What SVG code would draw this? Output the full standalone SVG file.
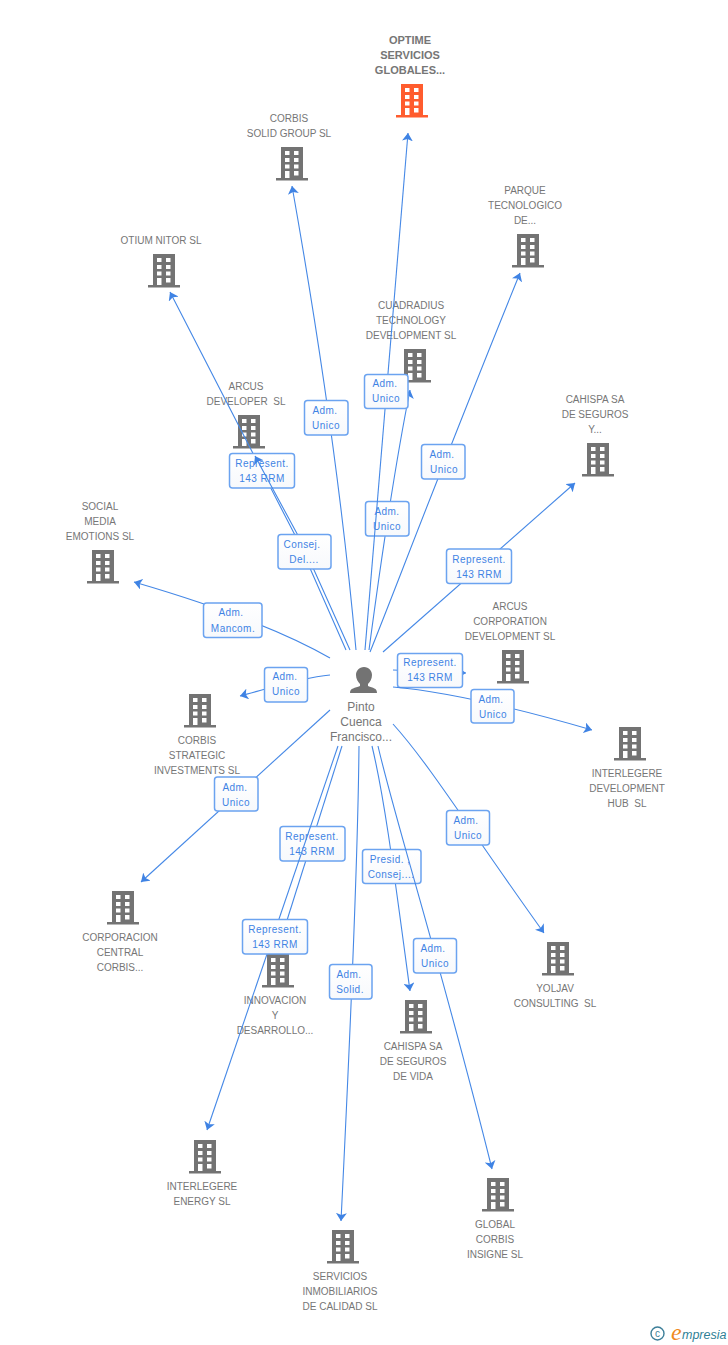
<svg xmlns="http://www.w3.org/2000/svg" width="728" height="1345" viewBox="0 0 728 1345">
<style>
.n{font:10px "Liberation Sans",Arial,sans-serif;fill:#767676;text-anchor:middle;white-space:pre}
.b{font-weight:bold;font-size:11px}
.c{fill:none;stroke:#4588e6;stroke-width:1.1;marker-end:url(#a)}
.l rect{fill:url(#g);stroke:#6ba3f0;stroke-width:1.5}
.l text{font:10px "Liberation Sans",Arial,sans-serif;letter-spacing:.45px;fill:#3f83e4;text-anchor:middle}
</style>
<defs>
<marker id="a" markerWidth="10" markerHeight="11" refX="8" refY="5.500" orient="auto" markerUnits="userSpaceOnUse"><path d="M0 0L8 5.500L0 11L2 5.500Z" fill="#3f83e4"/></marker>
<linearGradient id="g" x1="0" y1="0" x2="0" y2="1"><stop offset="0" stop-color="#fff"/><stop offset="1" stop-color="#f7f9fc"/></linearGradient>
<path id="i" fill-rule="evenodd" d="M5 0H27V31H32V33.500H0V31H5ZM9 4V8H13.500V4ZM18 4V8H22.500V4ZM9 11V15H13.500V11ZM18 11V15H22.500V11ZM9 17.500V21.500H13.500V17.500ZM18 17.500V21.500H22.500V17.500ZM9 24V31H13.500V24ZM18 24V28.500H22.500V24Z"/>
</defs>
<g id="n-optime"><text class="n b" x="410" y="44">OPTIME</text><text class="n b" x="410" y="59">SERVICIOS</text><text class="n b" x="410" y="74">GLOBALES...</text><use href="#i" x="396" y="84" fill="#ff5c2e"/></g>
<g id="n-corbis-solid" fill="#737373"><text class="n" x="289" y="122">CORBIS</text><text class="n" x="289" y="137">SOLID GROUP SL</text><use href="#i" x="276" y="147"/></g>
<g id="n-parque" fill="#737373"><text class="n" x="525" y="194">PARQUE</text><text class="n" x="525" y="209">TECNOLOGICO</text><text class="n" x="525" y="224">DE...</text><use href="#i" x="512" y="234"/></g>
<g id="n-otium" fill="#737373"><text class="n" x="161" y="244">OTIUM NITOR SL</text><use href="#i" x="148" y="254"/></g>
<g id="n-cuadradius" fill="#737373"><text class="n" x="411" y="309">CUADRADIUS</text><text class="n" x="411" y="324">TECHNOLOGY</text><text class="n" x="411" y="339">DEVELOPMENT SL</text><use href="#i" x="399" y="349"/></g>
<g id="n-arcus-dev" fill="#737373"><text class="n" x="246" y="390">ARCUS</text><text class="n" x="246" y="405">DEVELOPER  SL</text><use href="#i" x="233" y="415"/></g>
<g id="n-cahispa-seguros" fill="#737373"><text class="n" x="595" y="403">CAHISPA SA</text><text class="n" x="595" y="418">DE SEGUROS</text><text class="n" x="595" y="433">Y...</text><use href="#i" x="582" y="443"/></g>
<g id="n-social" fill="#737373"><text class="n" x="100" y="510">SOCIAL</text><text class="n" x="100" y="525">MEDIA</text><text class="n" x="100" y="540">EMOTIONS SL</text><use href="#i" x="87" y="550"/></g>
<g id="n-arcus-corp" fill="#737373"><text class="n" x="510" y="610">ARCUS</text><text class="n" x="510" y="625">CORPORATION</text><text class="n" x="510" y="640">DEVELOPMENT SL</text><use href="#i" x="497" y="650"/></g>
<g id="n-corbis-strategic" fill="#737373"><use href="#i" x="184" y="694"/><text class="n" x="197" y="744">CORBIS</text><text class="n" x="197" y="759">STRATEGIC</text><text class="n" x="197" y="774">INVESTMENTS SL</text></g>
<g id="n-interlegere-dev" fill="#737373"><use href="#i" x="614" y="727"/><text class="n" x="627" y="777">INTERLEGERE</text><text class="n" x="627" y="792">DEVELOPMENT</text><text class="n" x="627" y="807">HUB  SL</text></g>
<g id="n-corporacion" fill="#737373"><use href="#i" x="107" y="891"/><text class="n" x="120" y="941">CORPORACION</text><text class="n" x="120" y="956">CENTRAL</text><text class="n" x="120" y="971">CORBIS...</text></g>
<g id="n-innovacion" fill="#737373"><use href="#i" x="262" y="954"/><text class="n" x="275" y="1004">INNOVACION</text><text class="n" x="275" y="1019">Y</text><text class="n" x="275" y="1034">DESARROLLO...</text></g>
<g id="n-yoljav" fill="#737373"><use href="#i" x="542" y="942"/><text class="n" x="555" y="992">YOLJAV</text><text class="n" x="555" y="1007">CONSULTING  SL</text></g>
<g id="n-cahispa-vida" fill="#737373"><use href="#i" x="400" y="1000"/><text class="n" x="413" y="1050">CAHISPA SA</text><text class="n" x="413" y="1065">DE SEGUROS</text><text class="n" x="413" y="1080">DE VIDA</text></g>
<g id="n-interlegere-energy" fill="#737373"><use href="#i" x="189" y="1140"/><text class="n" x="202" y="1190">INTERLEGERE</text><text class="n" x="202" y="1205">ENERGY SL</text></g>
<g id="n-global" fill="#737373"><use href="#i" x="482" y="1178"/><text class="n" x="495" y="1228">GLOBAL</text><text class="n" x="495" y="1243">CORBIS</text><text class="n" x="495" y="1258">INSIGNE SL</text></g>
<g id="n-servicios" fill="#737373"><use href="#i" x="327" y="1230"/><text class="n" x="340" y="1280">SERVICIOS</text><text class="n" x="340" y="1295">INMOBILIARIOS</text><text class="n" x="340" y="1310">DE CALIDAD SL</text></g>
<g id="n-pinto"><path fill="#737373" d="M364 667C369 667 372 671 372 675C372 679 370 682 368 684V686C373 688 377 688 377 693H350C350 688 355 688 360 686V684C358 682 356 679 356 675C356 671 359 667 364 667Z"/><text class="n" x="361" y="711" style="font-size:12px">Pinto</text><text class="n" x="361" y="726" style="font-size:12px">Cuenca</text><text class="n" x="361" y="741" style="font-size:12px">Francisco...</text></g>
<g id="connectors">
<path class="c" d="M369 650C381 560 396 460 410 390"/>
<g class="l"><rect x="365.500" y="501.500" width="43.500" height="34.500" rx="3"/><text x="387" y="515">Adm.</text><text x="387" y="530">Unico</text></g>
<path class="c" d="M365 650C378 500 393 320 408 133"/>
<g class="l"><rect x="364.500" y="374.500" width="43.500" height="34" rx="3"/><text x="385" y="387">Adm.</text><text x="386" y="402">Unico</text></g>
<path class="c" d="M356 650C347 550 330 400 292 186"/>
<g class="l"><rect x="304.500" y="400.500" width="43.500" height="34.500" rx="3"/><text x="325" y="414">Adm.</text><text x="326" y="429">Unico</text></g>
<path class="c" d="M346 650L298 541L170 292"/>
<g class="l"><rect x="229.500" y="453.500" width="65" height="34.500" rx="3"/><text x="262" y="467">Represent.</text><text x="262" y="482">143 RRM</text></g>
<path class="c" d="M350 650L301 541L255 456"/>
<g class="l"><rect x="278" y="534.500" width="53" height="34.500" rx="3"/><text x="302" y="548">Consej.</text><text x="304" y="563">Del....</text></g>
<path class="c" d="M370 652C395 590 440 470 520 273"/>
<g class="l"><rect x="421.500" y="444.500" width="43.500" height="34.500" rx="3"/><text x="442" y="458">Adm.</text><text x="444" y="473">Unico</text></g>
<path class="c" d="M383 652L575 483"/>
<g class="l"><rect x="446.500" y="549" width="65" height="34.500" rx="3"/><text x="479" y="563">Represent.</text><text x="479" y="578">143 RRM</text></g>
<path class="c" d="M330 658C290 635 230 610 134 582"/>
<g class="l"><rect x="203.500" y="603" width="58.500" height="34.500" rx="3"/><text x="231" y="616">Adm.</text><text x="233" y="632">Mancom.</text></g>
<path class="c" d="M330 675C300 678 270 688 240 696"/>
<g class="l"><rect x="264.500" y="667.500" width="43" height="34.500" rx="3"/><text x="285" y="680">Adm.</text><text x="286" y="695">Unico</text></g>
<path class="c" d="M393 670L466 673"/>
<g class="l"><rect x="397.500" y="653.500" width="65" height="34" rx="3"/><text x="430" y="666">Represent.</text><text x="430" y="681">143 RRM</text></g>
<path class="c" d="M393 687C450 692 530 712 592 730"/>
<g class="l"><rect x="471" y="689.500" width="43" height="33.500" rx="3"/><text x="491" y="703">Adm.</text><text x="493" y="718">Unico</text></g>
<path class="c" d="M330 710L141 882"/>
<g class="l"><rect x="214.500" y="777" width="43.500" height="34" rx="3"/><text x="235" y="791">Adm.</text><text x="236" y="806">Unico</text></g>
<path class="c" d="M393 724C430 765 470 830 544 933"/>
<g class="l"><rect x="446.500" y="810.500" width="43" height="34.500" rx="3"/><text x="466" y="824">Adm.</text><text x="468" y="839">Unico</text></g>
<path class="c" d="M372 746C385 800 395 880 410 991"/>
<g class="l"><rect x="362.500" y="849.500" width="58.500" height="34" rx="3"/><text x="390" y="863">Presid. ,</text><text x="391" y="878">Consej....</text></g>
<path class="c" d="M378 746C395 820 440 960 492 1169"/>
<g class="l"><rect x="413.500" y="938.500" width="43" height="34.500" rx="3"/><text x="433" y="952">Adm.</text><text x="435" y="967">Unico</text></g>
<path class="c" d="M359 746C358 850 352 1000 341 1221"/>
<g class="l"><rect x="329.500" y="964.500" width="42.500" height="34.500" rx="3"/><text x="349" y="978">Adm.</text><text x="350" y="993">Solid.</text></g>
<path class="c" d="M342 746L277 952"/>
<g class="l"><rect x="280" y="826.500" width="65" height="34.500" rx="3"/><text x="312" y="840">Represent.</text><text x="312" y="855">143 RRM</text></g>
<path class="c" d="M338 746L207 1130"/>
<g class="l"><rect x="242.500" y="919.500" width="65" height="34.500" rx="3"/><text x="275" y="933">Represent.</text><text x="275" y="948">143 RRM</text></g>
</g>
<g id="logo"><circle cx="657.500" cy="1333.500" r="6.500" fill="none" stroke="#3d7f99" stroke-width="1.400"/><text x="657.500" y="1337" font-family="Liberation Sans,sans-serif" font-size="10" fill="#3d7f99" text-anchor="middle">c</text><text x="671" y="1340" font-family="Liberation Serif,serif" font-style="italic" font-size="24" fill="#f08a1d">e</text><text x="682" y="1339" font-family="Liberation Sans,sans-serif" font-style="italic" font-size="12.500" fill="#2f7f96">mpresia</text></g>
</svg>
